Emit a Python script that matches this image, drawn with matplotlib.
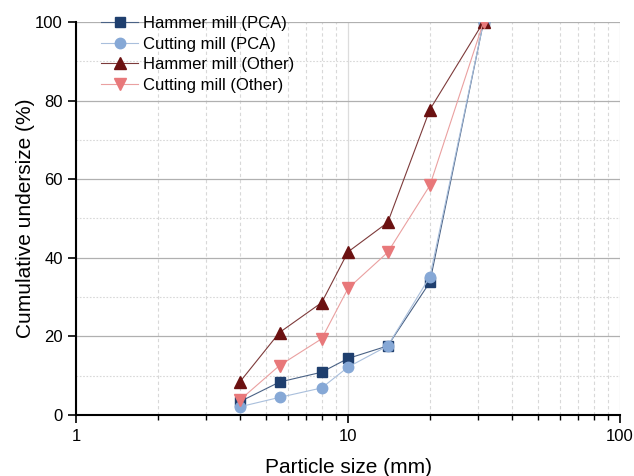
import matplotlib
matplotlib.use("Agg")
import matplotlib.pyplot as plt
from matplotlib.ticker import LogLocator, FixedLocator, NullFormatter, FixedFormatter

sizes = [4, 5.6, 8, 10, 14, 20, 31.5]
hammer_pca = [3.4, 8.4, 10.9, 14.4, 17.6, 33.8, 100]
cutting_pca = [2.1, 4.5, 6.9, 12.2, 17.6, 35.2, 100]
hammer_other = [8.4, 21.0, 28.6, 41.5, 49.0, 77.7, 100]
cutting_other = [3.8, 12.6, 19.4, 32.2, 41.4, 58.4, 100]

series_names = ["Hammer mill (PCA)", "Cutting mill (PCA)", "Hammer mill (Other)", "Cutting mill (Other)"]
x_ticks = [1, 10, 100]
x_ticklabels = ["1", "10", "100"]
y_ticks = [0, 20, 40, 60, 80, 100]

plt.rcParams['font.family'] = ['Liberation Sans', 'DejaVu Sans']

fig = plt.figure(figsize=(6.34, 4.76), dpi=100)
ax = fig.add_axes([0.1199, 0.128, 0.858, 0.826])

styles = [
    dict(marker='s', color='#1f3f6e', ms=7, lc='#4a6285'),
    dict(marker='o', color='#86a8d6', ms=7.5, lc='#a9bfdc'),
    dict(marker='^', color='#6b1111', ms=8.5, lc='#7d3a3a'),
    dict(marker='v', color='#e8787a', ms=8.5, lc='#eaa0a0'),
]
data = [hammer_pca, cutting_pca, hammer_other, cutting_other]
for name, ys, st in zip(series_names, data, styles):
    ax.plot(sizes, ys, color=st['lc'], lw=0.8, marker=st['marker'],
            ms=st['ms'], mfc=st['color'], mec=st['color'], label=name, zorder=3)

ax.set_xscale('log')
ax.set_xlim(1, 100)
ax.set_ylim(0, 100)
ax.xaxis.set_major_locator(FixedLocator(x_ticks))
ax.xaxis.set_major_formatter(FixedFormatter(x_ticklabels))
ax.xaxis.set_minor_locator(LogLocator(base=10, subs=range(2, 10)))
ax.xaxis.set_minor_formatter(NullFormatter())
ax.yaxis.set_major_locator(FixedLocator(y_ticks))
ax.yaxis.set_minor_locator(FixedLocator([10, 30, 50, 70, 90]))

ax.grid(which='major', axis='y', color='#b0b0b0', lw=0.9, ls='-')
ax.grid(which='major', axis='x', color='#dcdcdc', lw=0.9, ls='-')
ax.grid(which='minor', axis='y', color='#d8d8d8', lw=0.8, ls=(0, (1.5, 1.5)))
ax.grid(which='minor', axis='x', color='#d8d8d8', lw=0.8, ls=(0, (3, 2.5)))
ax.set_axisbelow(True)

for s in ['top', 'right']:
    ax.spines[s].set_visible(False)
for s in ['left', 'bottom']:
    ax.spines[s].set_linewidth(1.5)
    ax.spines[s].set_color('black')

ax.tick_params(which='major', direction='out', length=6, width=1.2, labelsize=12)
ax.tick_params(axis='x', which='major', pad=4)
ax.tick_params(which='minor', direction='out', length=3.5, width=1.0)
ax.tick_params(axis='y', which='minor', length=0)

ax.set_xlabel('Particle size (mm)', fontsize=15, labelpad=10)
ax.set_ylabel('Cumulative undersize (%)', fontsize=15, labelpad=0)

leg = ax.legend(loc='upper left', bbox_to_anchor=(0.028, 1.04), frameon=False,
                fontsize=12, handlelength=2.2, labelspacing=0.33, handletextpad=0.3,
                borderaxespad=0.2)

fig.savefig('out.png', dpi=100)
